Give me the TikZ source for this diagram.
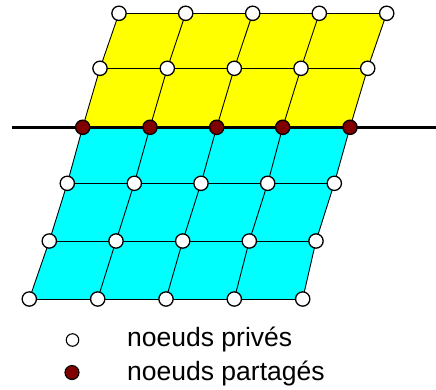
\documentclass[tikz,border=0pt]{standalone}
\usepackage{fontspec}
\setmainfont{Liberation Sans}
\definecolor{darkred}{HTML}{800000}
\definecolor{topyellow}{HTML}{FFFF00}
\definecolor{botcyan}{HTML}{00FFFF}
\begin{document}
\begin{tikzpicture}[x=1pt,y=-1pt,
  pnode/.style={circle,draw=black,line width=1.3pt,fill=white,minimum size=14.3pt,inner sep=0pt},
  snode/.style={pnode,fill=darkred},
  gridline/.style={line width=0.9pt,draw=black},
  splitline/.style={line width=2.6pt,draw=black},
  lpnode/.style={circle,draw=black,line width=1.1pt,fill=white,minimum size=12.5pt,inner sep=0pt},
  lsnode/.style={lpnode,fill=darkred,minimum size=14pt},
  legtext/.style={anchor=base west,inner sep=0pt,font=\fontsize{26.5}{30}\selectfont}]
\useasboundingbox (0,0) rectangle (436,389);
% grid coordinates
\foreach \r/\y/\xa/\xb/\xc/\xd/\xe in {
  1/13.3/119/185.7/252.7/319.3/386.7,
  2/68.3/100/167.3/234.3/301/367.7,
  3/127.3/82.7/150/216.7/282.7/350,
  4/183.3/67.3/134.3/201/267.7/334.3,
  5/241/49.3/116/182.7/249.3/316,
  6/299/29.3/97.7/166/234.3/302.7}{
  \coordinate (p-\r-1) at (\xa,\y);
  \coordinate (p-\r-2) at (\xb,\y);
  \coordinate (p-\r-3) at (\xc,\y);
  \coordinate (p-\r-4) at (\xd,\y);
  \coordinate (p-\r-5) at (\xe,\y);
}
% fills
\fill[topyellow] (p-1-1) -- (p-1-5) -- (p-2-5) -- (p-3-5) -- (p-3-1) -- (p-2-1) -- cycle;
\fill[botcyan] (p-3-1) -- (p-3-5) -- (p-4-5) -- (p-5-5) -- (p-6-5) -- (p-6-1) -- (p-5-1) -- (p-4-1) -- cycle;
% horizontal grid lines
\foreach \r in {1,...,6}{
  \draw[gridline] (p-\r-1) -- (p-\r-5);
}
% slanted grid lines
\foreach \c in {1,...,5}{
  \draw[gridline] (p-1-\c) -- (p-2-\c) -- (p-3-\c) -- (p-4-\c) -- (p-5-\c) -- (p-6-\c);
}
% split line
\coordinate (hl) at (12,127.3);
\coordinate (hr) at (436,127.3);
\draw[splitline] (hl) -- (hr);
% nodes
\foreach \r in {1,2,4,5,6}{
  \foreach \c in {1,...,5}{
    \node[pnode] (n-\r-\c) at (p-\r-\c) {};
  }
}
\foreach \c in {1,...,5}{
  \node[snode] (n-3-\c) at (p-3-\c) {};
}
% legend
\node[lpnode] (lp) at (72.5,340) {};
\node[lsnode] (ls) at (72,372.5) {};
\node[legtext] (tp) at (127,346.7) {noeuds privés};
\node[legtext] (ts) at (127,380) {noeuds partagés};
\end{tikzpicture}
\end{document}
